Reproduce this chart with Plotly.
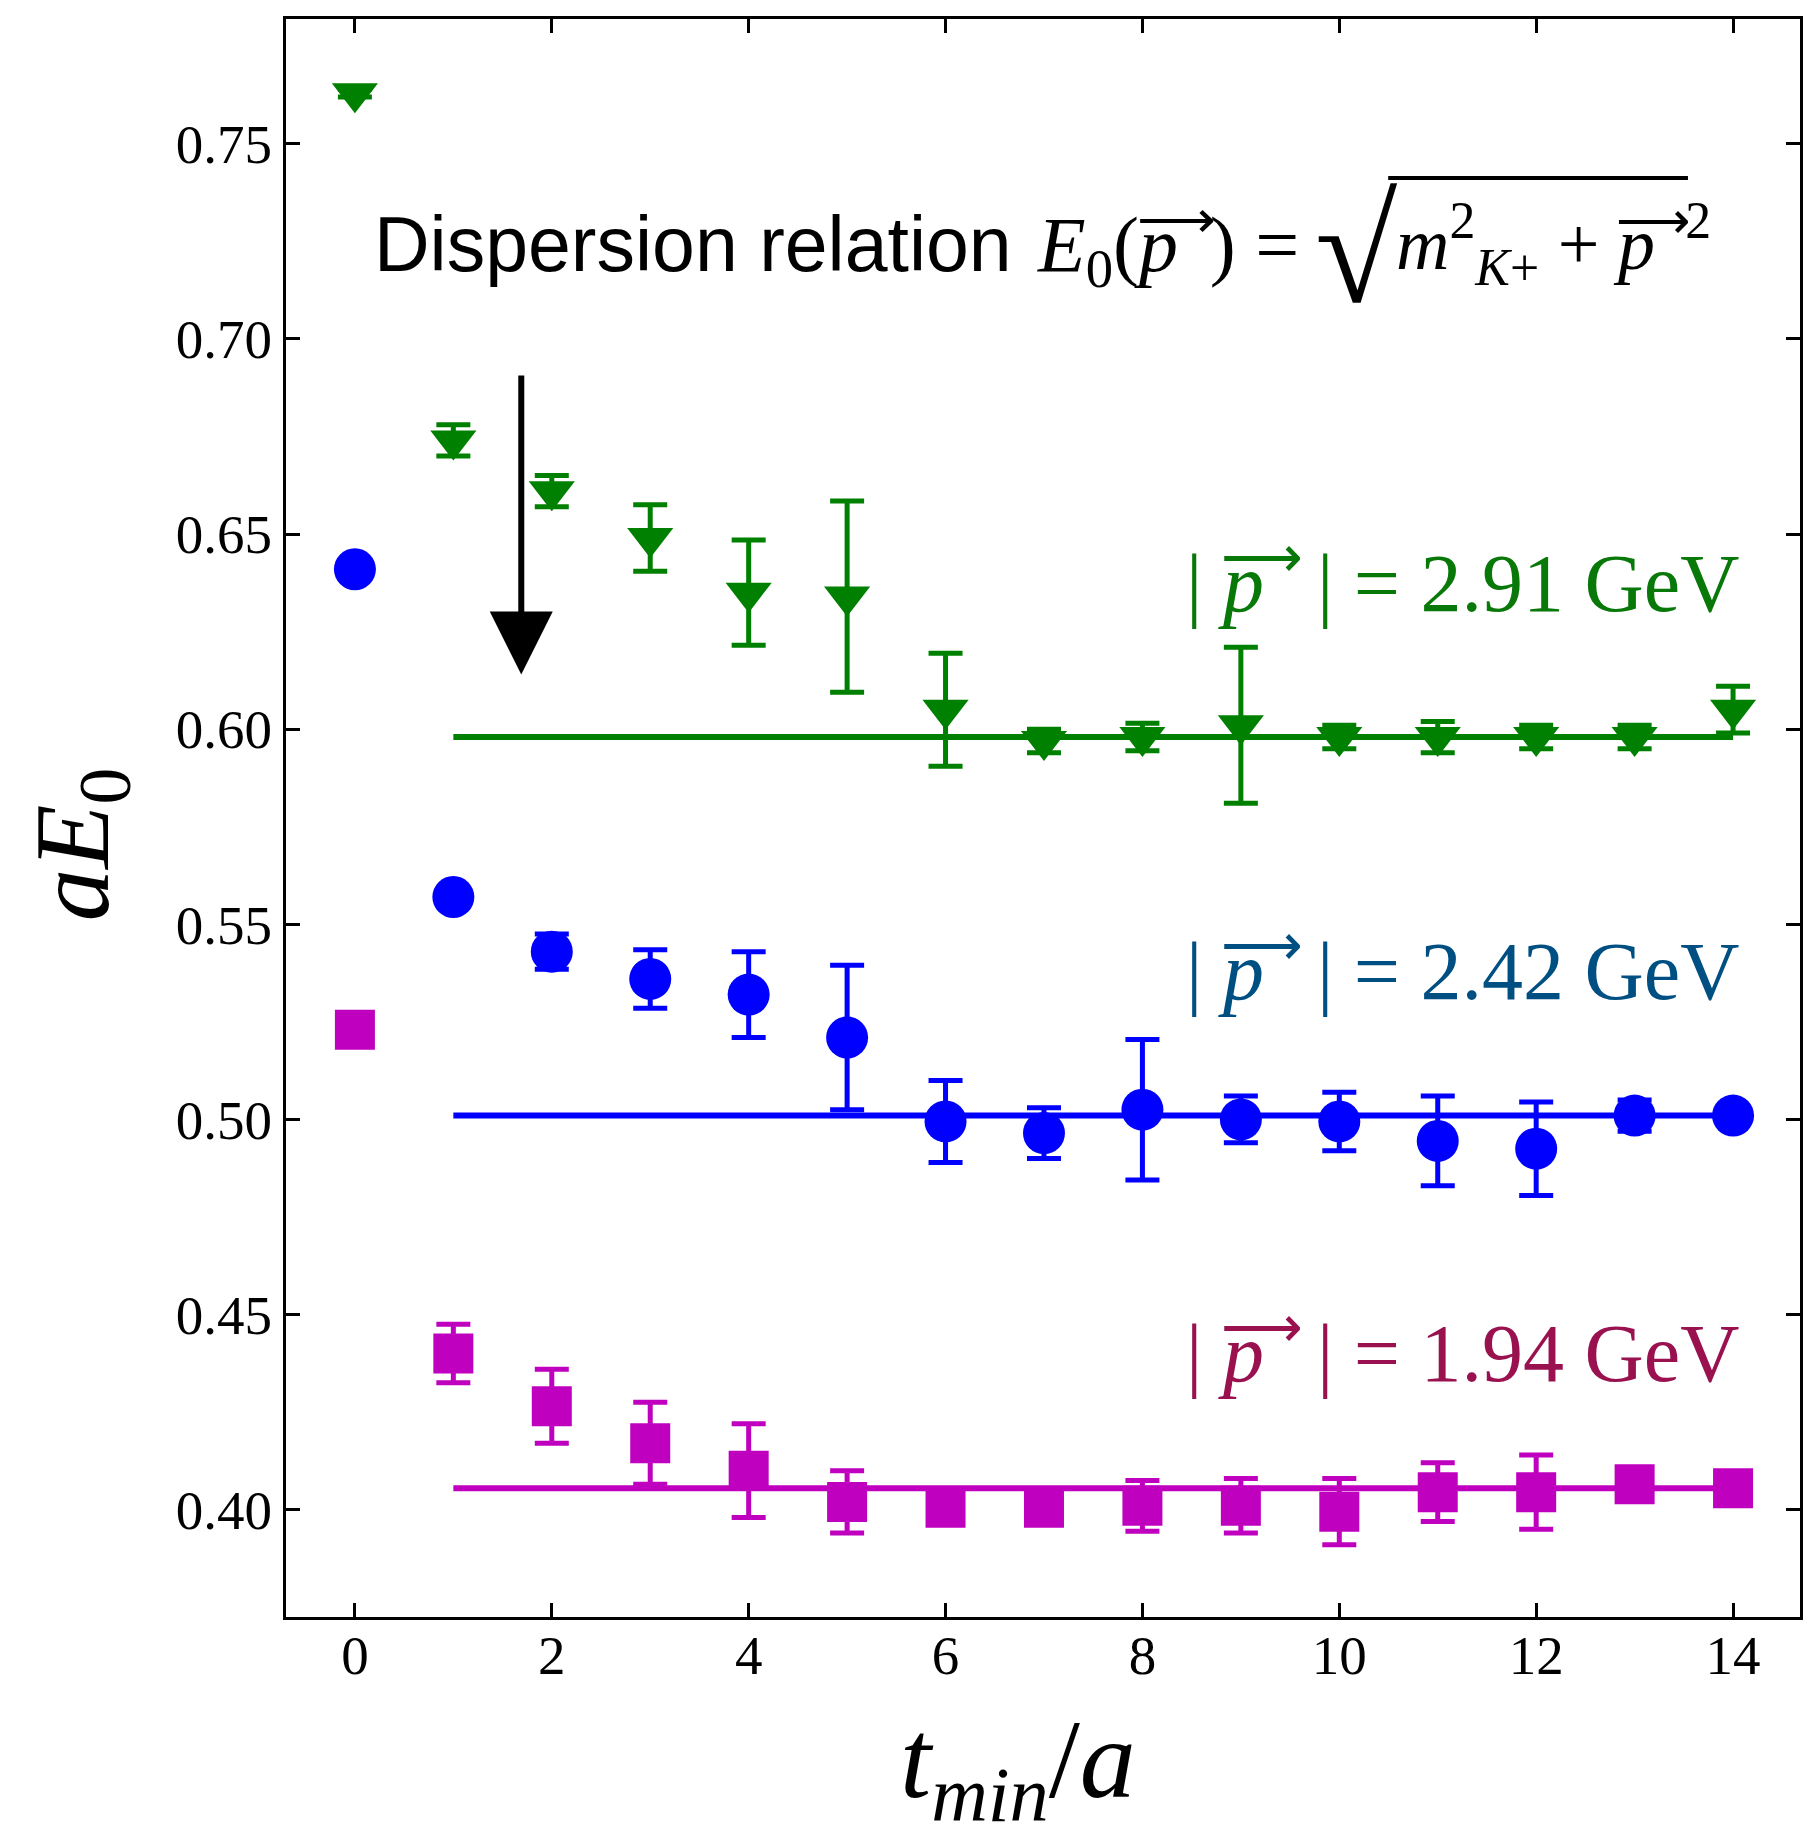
import plotly.graph_objects as go

# ---------------- data ----------------
t_min = list(range(15))

# |p| = 2.91 GeV (green, triangles)
e_291 = [0.763, 0.674, 0.661, 0.649, 0.635, 0.634, 0.605, 0.597, 0.598, 0.601,
         0.598, 0.598, 0.598, 0.598, 0.605]
err_291 = [0.001, 0.004, 0.004, 0.0085, 0.0135, 0.0245, 0.0145, 0.003, 0.0035, 0.020,
           0.003, 0.004, 0.003, 0.003, 0.006]
fit_291 = 0.598

# |p| = 2.42 GeV (blue, circles)
e_242 = [0.641, 0.557, 0.543, 0.536, 0.532, 0.521, 0.4995, 0.4965, 0.5025, 0.500,
         0.4995, 0.4945, 0.4925, 0.501, 0.501]
err_242 = [0.001, 0.0015, 0.0045, 0.0075, 0.011, 0.0185, 0.0105, 0.0065, 0.018, 0.006,
           0.0075, 0.0115, 0.012, 0.004, 0.001]
fit_242 = 0.501

# |p| = 1.94 GeV (magenta, squares)
e_194 = [0.523, 0.440, 0.4265, 0.417, 0.410, 0.402, 0.4005, 0.4005, 0.401, 0.401,
         0.3995, 0.4045, 0.4045, 0.4065, 0.4055]
err_194 = [0.001, 0.0075, 0.0095, 0.0105, 0.012, 0.008, 0.002, 0.002, 0.0065, 0.007,
           0.0085, 0.0075, 0.0095, 0.003, 0.001]
fit_194 = 0.4055

fit_range = [1, 14]

x_ticks = [0, 2, 4, 6, 8, 10, 12, 14]
y_ticks = [0.40, 0.45, 0.50, 0.55, 0.60, 0.65, 0.70, 0.75]

labels = ["2.91", "2.42", "1.94"]
label_y = [0.639, 0.5395, 0.4415]

# arrow (hand drawn hint) from / to
arrow_x = 1.69
arrow_from = 0.691
arrow_to = 0.614

# ---------------- styles ----------------
SERIF = "Liberation Serif"
SANS = "Liberation Sans"
C_G, C_B, C_M = "#008000", "#0000FF", "#BF00BF"
T_G, T_B, T_M = "#087808", "#004F82", "#99124F"

# vector p with an arrow on top
PV = ('<span style="letter-spacing:-0.52em"><i>p</i></span>'
      '<sup><span style="font-size:1.0em;letter-spacing:-0.12em">\u27f6</span></sup>')

fig = go.Figure()

series = [
    (e_291, err_291, fit_291, C_G, "triangle-down", 40),
    (e_242, err_242, fit_242, C_B, "circle", 42),
    (e_194, err_194, fit_194, C_M, "square", 40),
]
for vals, errs, fit, col, sym, sz in series:
    fig.add_trace(go.Scatter(
        x=fit_range, y=[fit, fit], mode="lines",
        line=dict(color=col, width=6), showlegend=False, hoverinfo="skip"))
    fig.add_trace(go.Scatter(
        x=t_min, y=vals, mode="markers",
        marker=dict(symbol=sym, size=sz, color=col, line=dict(width=0)),
        error_y=dict(type="data", array=errs, visible=True,
                     color=col, thickness=5, width=17),
        showlegend=False))

ann = []
for lab, ly, tc in zip(labels, label_y, [T_G, T_B, T_M]):
    ann.append(dict(
        x=14.08, y=ly, xref="x", yref="y", xanchor="right", yanchor="middle",
        text="| " + PV + " | = " + lab + " GeV", showarrow=False,
        font=dict(family=SERIF, size=82, color=tc)))

# black arrow
ann.append(dict(
    x=arrow_x, y=arrow_to, ax=arrow_x, ay=arrow_from, xref="x", yref="y",
    axref="x", ayref="y", showarrow=True, arrowhead=2, arrowsize=2.1,
    arrowwidth=6, arrowcolor="black", text=""))

# dispersion relation text
ann.append(dict(x=0.057, y=0.859, xref="paper", yref="paper",
                xanchor="left", yanchor="middle", showarrow=False,
                text="Dispersion relation",
                font=dict(family=SANS, size=77, color="black")))
ann.append(dict(x=0.495, y=0.859, xref="paper", yref="paper",
                xanchor="left", yanchor="middle", showarrow=False,
                text="<i>E</i><sub>0</sub>(" + PV + ") =",
                font=dict(family=SERIF, size=78, color="black")))
ann.append(dict(x=0.6784, y=0.855, xref="paper", yref="paper",
                xanchor="left", yanchor="middle", showarrow=False,
                text="\u221a",
                font=dict(family=SERIF, size=150, color="black")))
ann.append(dict(x=0.7318, y=0.859, xref="paper", yref="paper",
                xanchor="left", yanchor="middle", showarrow=False,
                text="<i>m</i><sup>2</sup><sub><i>K</i>+</sub> + " + PV + "<sup>2</sup>",
                font=dict(family=SERIF, size=74, color="black")))

# axis titles
ann.append(dict(x=-0.136, y=0.483, xref="paper", yref="paper",
                xanchor="center", yanchor="middle", showarrow=False, textangle=-90,
                text="<i>aE</i><sub>0</sub>",
                font=dict(family=SERIF, size=105, color="black")))
ann.append(dict(x=0.4835, y=-0.094, xref="paper", yref="paper",
                xanchor="center", yanchor="middle", showarrow=False,
                text="<i>t</i><sub><i>min</i></sub>/<i>a</i>",
                font=dict(family=SERIF, size=112, color="black")))

fig.update_layout(
    width=1819, height=1830, autosize=False,
    margin=dict(l=286, r=19, t=19, b=213),
    plot_bgcolor="white", paper_bgcolor="white",
    annotations=ann,
    shapes=[dict(type="line", xref="paper", yref="paper",
                 x0=0.728, x1=0.926, y0=0.9005, y1=0.9005,
                 line=dict(color="black", width=4))],
)
axis_common = dict(showline=True, linewidth=3, linecolor="black", mirror="allticks",
                   ticks="inside", ticklen=14, tickwidth=3, tickcolor="black",
                   showgrid=False, zeroline=False,
                   tickfont=dict(family=SERIF, size=55, color="black"))
fig.update_xaxes(range=[-0.7, 14.68], tickvals=x_ticks, ticklabelstandoff=-12,
                 **axis_common)
fig.update_yaxes(range=[0.3725, 0.782], tickvals=y_ticks, tickformat=".2f", **axis_common)

fig.write_html("out.html")
